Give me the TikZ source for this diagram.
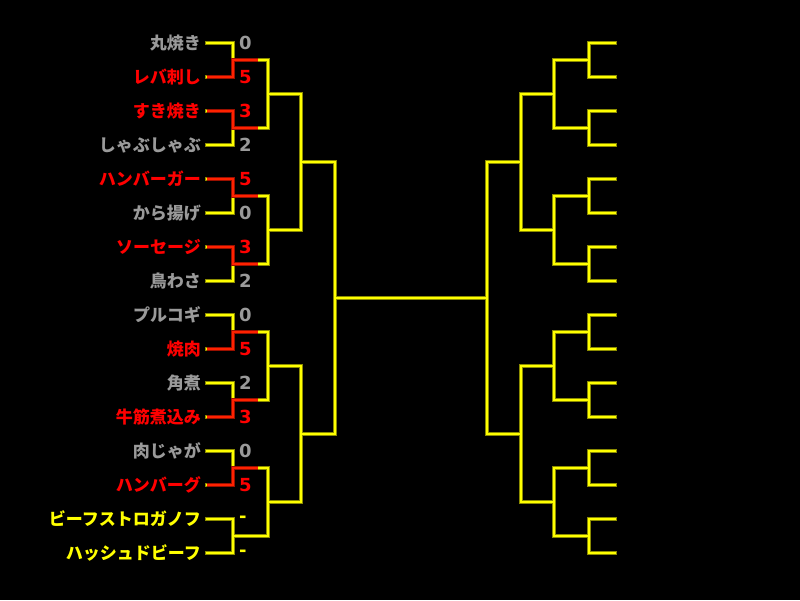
\documentclass[tikz,border=0pt]{standalone}
\usepackage{fontspec}
\newfontfamily\jp{Noto Sans CJK JP}
\newfontfamily\scorefont{DejaVu Sans}
\definecolor{ybright}{HTML}{FFFF00}
\definecolor{ydark}{HTML}{8C8C00}
\definecolor{rbright}{HTML}{FF2200}
\definecolor{rdark}{HTML}{9A1000}
\definecolor{tgray}{HTML}{9A9A9A}
\definecolor{tred}{HTML}{FF0000}
\definecolor{tyel}{HTML}{FFFF00}
\tikzset{
  dk/.style={draw=ydark, line width=3.4pt, line cap=rect, line join=miter},
  br/.style={draw=ybright, line width=1.8pt, line cap=rect, line join=miter},
  rdk/.style={draw=rdark, line width=3.4pt, line cap=butt, line join=miter},
  rbr/.style={draw=rbright, line width=1.8pt, line cap=butt, line join=miter},
  dish/.style={font=\jp\bfseries\fontsize{17}{18}\selectfont, inner sep=0pt, anchor=east},
  score/.style={font=\scorefont\bfseries\fontsize{18}{20}\selectfont, inner sep=0pt, anchor=west},
}
\newcommand\halftree[1]{%
  \foreach \k in {0,...,7}{
    \pgfmathsetmacro\ya{43+68*\k}
    \pgfmathsetmacro\yb{77+68*\k}
    \pgfmathsetmacro\ym{60+68*\k}
    \coordinate (a\k) at (207,\ya);
    \coordinate (b\k) at (207,\yb);
    \coordinate (j\k) at (233,\ym);
    \coordinate (h\k) at (268,\ym);
    \draw[#1] (a\k) -| (j\k) |- (b\k);
    \draw[#1] (j\k) -- (h\k);
  }
  \foreach \q in {0,...,3}{
    \pgfmathtruncatemacro\ta{2*\q}
    \pgfmathtruncatemacro\tb{2*\q+1}
    \pgfmathsetmacro\ym{94+136*\q}
    \coordinate (q\q) at (268,\ym);
    \coordinate (p\q) at (301,\ym);
    \draw[#1] (h\ta) -- (h\tb);
    \draw[#1] (q\q) -- (p\q);
  }
  \foreach \q in {0,1}{
    \pgfmathtruncatemacro\ta{2*\q}
    \pgfmathtruncatemacro\tb{2*\q+1}
    \pgfmathsetmacro\ym{162+272*\q}
    \coordinate (s\q) at (301,\ym);
    \coordinate (r\q) at (335,\ym);
    \draw[#1] (p\ta) -- (p\tb);
    \draw[#1] (s\q) -- (r\q);
  }
  \coordinate (mid) at (335,298);
  \coordinate (center) at (411,298);
  \draw[#1] (r0) -- (r1);
  \draw[#1] (mid) -- (center);
}
\begin{document}
\begin{tikzpicture}[x=1pt,y=-1pt]
\fill[black] (0,0) rectangle (800,600);
\useasboundingbox (0,0) rectangle (800,600);
% yellow bracket, two passes (outline then core)
\foreach \st in {dk,br}{
  \halftree{\st}
  \begin{scope}[xshift=822pt, xscale=-1]
    \halftree{\st}
  \end{scope}
}
% winners' red paths
\foreach \st in {rdk,rbr}{
  \foreach \k/\w in {0/b,1/a,2/a,3/a,4/b,5/b,6/b}{
    \pgfmathsetmacro\ya{43+68*\k}
    \pgfmathsetmacro\yb{77+68*\k}
    \pgfmathsetmacro\ym{60+68*\k}
    \coordinate (wa) at (207,\ya);
    \coordinate (wb) at (207,\yb);
    \coordinate (wj) at (233,\ym);
    \coordinate (we) at (258,\ym);
    \draw[\st] (w\w) -| (wj) -- (we);
  }
}
% names and scores
\foreach \i/\n/\c/\s in {
  0/丸焼き/tgray/0,
  1/レバ刺し/tred/5,
  2/すき焼き/tred/3,
  3/しゃぶしゃぶ/tgray/2,
  4/ハンバーガー/tred/5,
  5/から揚げ/tgray/0,
  6/ソーセージ/tred/3,
  7/鳥わさ/tgray/2,
  8/プルコギ/tgray/0,
  9/焼肉/tred/5,
  10/角煮/tgray/2,
  11/牛筋煮込み/tred/3,
  12/肉じゃが/tgray/0,
  13/ハンバーグ/tred/5,
  14/ビーフストロガノフ/tyel/-,
  15/ハッシュドビーフ/tyel/-}{
  \node[dish, text=\c] (n\i) at (201,43+34*\i) {\n};
  \node[score, text=\c] (sc\i) at (239,43+34*\i) {\s};
}
\end{tikzpicture}
\end{document}
